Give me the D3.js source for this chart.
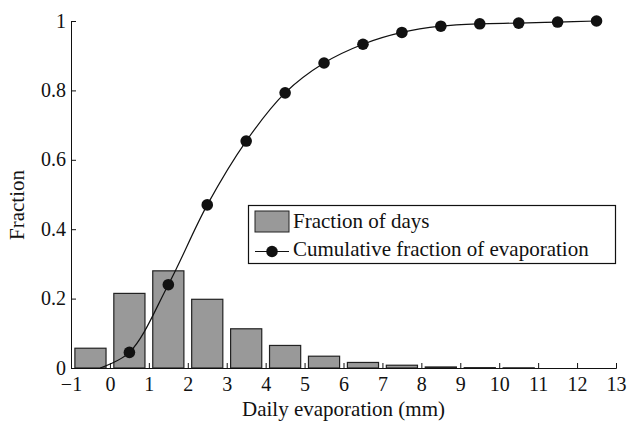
<!DOCTYPE html>
<html>
<head>
<meta charset="utf-8">
<script src="https://cdn.jsdelivr.net/npm/d3@7"></script>
<style>
  body { margin: 0; background: #fff; }
</style>
</head>
<body>
<svg id="viz" width="627" height="421"></svg>
<script>
// bin centres (mm) and the fraction of days in each bin
const binCentres = [-0.5, 0.5, 1.5, 2.5, 3.5, 4.5, 5.5, 6.5, 7.5, 8.5, 9.5, 10.5, 11.5, 12.5]
const dayFraction = [0.057, 0.215, 0.280, 0.198, 0.113, 0.065, 0.034, 0.016, 0.008, 0.003, 0.001, 0.0005, 0, 0]

// cumulative fraction of evaporation, one marker per bin from 0.5 up
const cumX = [0.5, 1.5, 2.5, 3.5, 4.5, 5.5, 6.5, 7.5, 8.5, 9.5, 10.5, 11.5, 12.5]
const cumFraction = [0.045, 0.240, 0.470, 0.654, 0.793, 0.879, 0.933, 0.967, 0.985, 0.992, 0.994, 0.997, 1.0]
// where the curve leaves the axis (no marker there)
const curveStart = [-0.25, 0]

const xTicks = d3.range(-1, 14)
const yTicks = [0, 0.2, 0.4, 0.6, 0.8, 1]
const legendLabels = ['Fraction of days', 'Cumulative fraction of evaporation']

const serif = '"Liberation Serif", "Times New Roman", Times, "DejaVu Serif", serif'

const svg = d3.select('#viz')
  .attr('font-family', serif)

const x = d3.scaleLinear().domain([-1, 13]).range([71, 616])
const y = d3.scaleLinear().domain([0, 1]).range([368, 21])
const barW = 0.8

// bars
svg.append('g').selectAll('rect')
  .data(binCentres)
  .enter()
  .append('rect')
  .attr('x', d => x(d - barW / 2))
  .attr('width', x(barW) - x(0))
  .attr('y', (d, i) => y(dayFraction[i]))
  .attr('height', (d, i) => y(0) - y(dayFraction[i]))
  .style('fill', '#999999')
  .style('stroke', '#222')
  .style('stroke-width', 1.2)

// axes, ticks pointing into the plot
const xAxis = svg.append('g')
  .attr('transform', `translate(0,${y(0)})`)
  .call(d3.axisBottom(x).tickValues(xTicks).tickSizeInner(-5).tickSizeOuter(-5).tickPadding(9))

const yAxis = svg.append('g')
  .attr('transform', `translate(${x(-1)},0)`)
  .call(d3.axisLeft(y).tickValues(yTicks).tickFormat(d3.format('')).tickSizeInner(-5).tickSizeOuter(-5).tickPadding(5))

svg.selectAll('.tick text')
  .attr('font-family', serif)
  .attr('fill', '#111')
  .style('font-size', '20px')
xAxis.selectAll('text').attr('dy', '0.7em')
yAxis.selectAll('text').attr('dy', '0.3em')

svg.selectAll('.domain, .tick line').attr('stroke', '#111').attr('stroke-width', 1)

// cumulative curve
const linePts = [curveStart].concat(cumX.map((d, i) => [d, cumFraction[i]]))
const line = d3.line()
  .x(d => x(d[0]))
  .y(d => y(d[1]))
  .curve(d3.curveCatmullRom.alpha(0.5))

svg.append('path')
  .datum(linePts)
  .attr('d', line)
  .style('fill', 'none')
  .style('stroke', '#111')
  .style('stroke-width', 1.2)

svg.append('g').selectAll('circle')
  .data(cumX)
  .enter()
  .append('circle')
  .attr('cx', d => x(d))
  .attr('cy', (d, i) => y(cumFraction[i]))
  .attr('r', 5.8)
  .style('fill', '#111')

// axis titles
svg.append('text')
  .attr('x', (x(-1) + x(13)) / 2)
  .attr('y', 416)
  .attr('text-anchor', 'middle')
  .attr('fill', '#111')
  .style('font-size', '21px')
  .text('Daily evaporation (mm)')

svg.append('text')
  .attr('transform', 'translate(24,205) rotate(-90)')
  .attr('text-anchor', 'middle')
  .attr('fill', '#111')
  .style('font-size', '21px')
  .text('Fraction')

// legend
const leg = svg.append('g')
leg.append('rect')
  .attr('x', 248.5).attr('y', 205.5)
  .attr('width', 367).attr('height', 58)
  .style('fill', '#fff')
  .style('stroke', '#111')
  .style('stroke-width', 1.2)

leg.append('rect')
  .attr('x', 255).attr('y', 211)
  .attr('width', 34).attr('height', 21)
  .style('fill', '#999999')
  .style('stroke', '#222')

leg.append('line')
  .attr('x1', 255).attr('x2', 289)
  .attr('y1', 251.5).attr('y2', 251.5)
  .style('stroke', '#111')
  .style('stroke-width', 1.2)

leg.append('circle')
  .attr('cx', 272).attr('cy', 251.5).attr('r', 5.8)
  .style('fill', '#111')

leg.selectAll('.legLabel')
  .data(legendLabels)
  .enter()
  .append('text')
  .attr('x', 293)
  .attr('y', (d, i) => 228 + i * 28)
  .attr('fill', '#111')
  .style('font-size', '21px')
  .text(d => d)
</script>
</body>
</html>
